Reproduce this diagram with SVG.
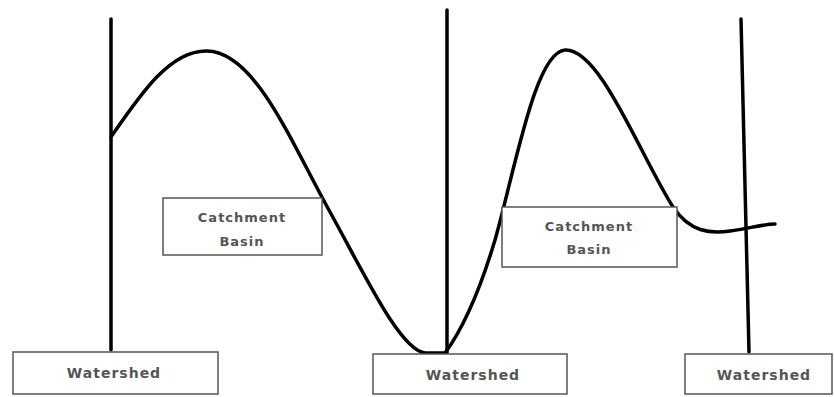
<svg xmlns="http://www.w3.org/2000/svg" width="834" height="397" viewBox="0 0 834 397">
<style>
.box{fill:#fff;stroke:#555;stroke-width:1.5}
.lbl{font-family:"DejaVu Sans",sans-serif;font-weight:bold;fill:#555;text-anchor:middle;letter-spacing:1px}
.ws{font-size:14px}
.cb{font-size:13px}
.line{fill:none;stroke:#000;stroke-width:3.5;stroke-linecap:round;stroke-linejoin:round}
</style>
<rect width="834" height="397" fill="#fff"/>
<g id="connectors">
<path class="line" d="M111,19 L111,350"/>
<path class="line" d="M447,10 L447,353"/>
<path class="line" d="M741,19 L749,352"/>
<path class="line" d="M111,137 C140,95 170,50 207,51 C255,52 290,140 330,212 C365,275 400,350 425,353 L445,353"/>
<path class="line" d="M445,353 C462,330 480,290 495,240 C515,170 535,52 565,50 C600,48 640,155 673,207 C690,232 710,234 730,231 C750,228 765,224 775,224"/>
</g>
<g id="catchment1">
<rect class="box" x="163" y="198" width="159" height="57"/>
<text class="lbl cb" x="242" y="222">Catchment</text>
<text class="lbl cb" x="242" y="246">Basin</text>
</g>
<g id="catchment2">
<rect class="box" x="502" y="207" width="175" height="60"/>
<text class="lbl cb" x="589" y="231">Catchment</text>
<text class="lbl cb" x="589" y="254">Basin</text>
</g>
<g id="watershed1">
<rect class="box" x="13" y="352" width="205" height="42"/>
<text class="lbl ws" x="114" y="378">Watershed</text>
</g>
<g id="watershed2">
<rect class="box" x="373" y="354" width="194" height="40"/>
<text class="lbl ws" x="473" y="380">Watershed</text>
</g>
<g id="watershed3">
<rect class="box" x="685" y="354" width="147" height="40"/>
<text class="lbl ws" x="764" y="380">Watershed</text>
</g>
</svg>
